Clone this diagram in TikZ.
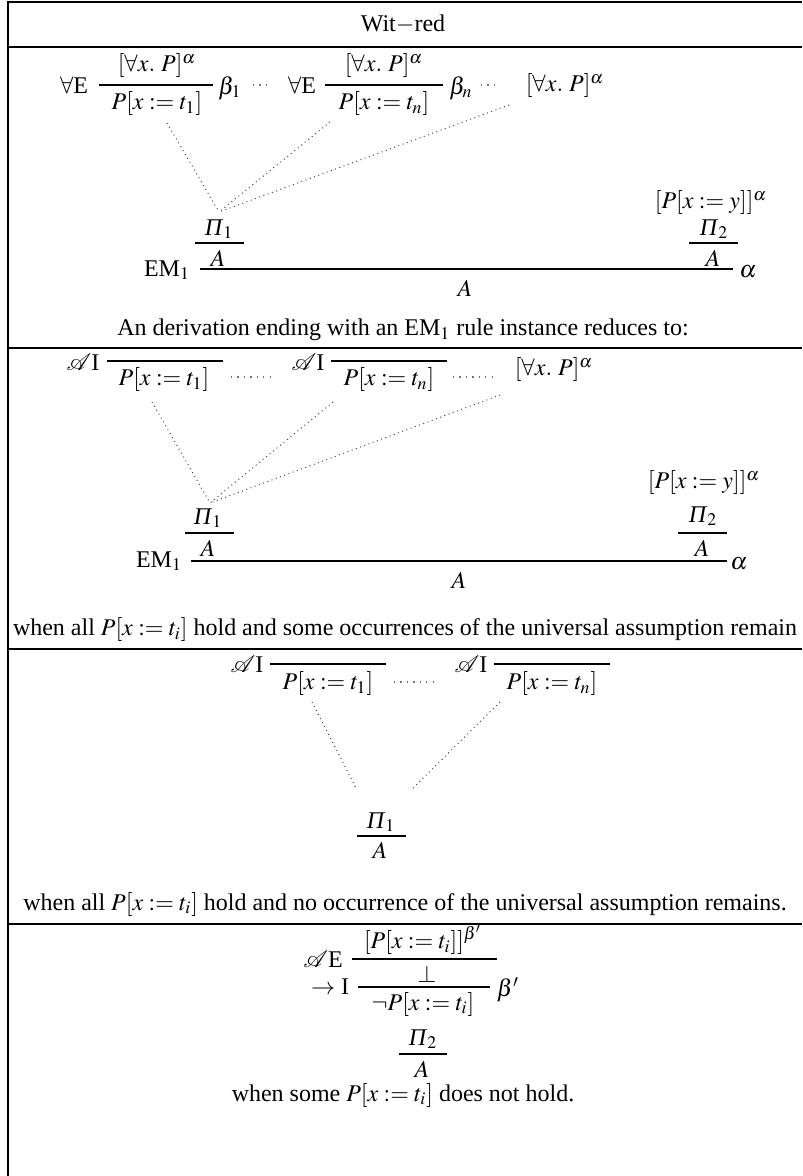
\documentclass[tikz,border=0pt]{standalone}
\usepackage{mathptmx}
\usepackage{fontspec}
\setmainfont{Liberation Serif}
\usetikzlibrary{calc}
\newcommand{\PiI}[1]{\textit{Π}$_{#1}$}
\begin{document}
\begin{tikzpicture}[x=0.467pt,y=-0.467pt,
  lbl/.style={inner sep=0pt,outer sep=0pt,font=\fontsize{11.2}{13}\selectfont},
  frame/.style={line width=1.2pt},
  rulebar/.style={line width=0.9pt},
  dotline/.style={line width=0.45pt,black!75,dash pattern=on 0.45pt off 1.65pt},
  hdots/.style={line width=0.6pt,black!55,dash pattern=on 0.6pt off 2.4pt}]
\useasboundingbox (0,0) rectangle (802,1176);
% frame
\draw[frame] (8,2) -- (802,2);
\draw[frame] (8,47) -- (802,47);
\draw[frame] (8,348) -- (802,348);
\draw[frame] (8,649) -- (802,649);
\draw[frame] (8,924) -- (802,924);
\draw[frame] (8,1) -- (8,1176);
% header
\node[lbl] (title) at (403,24) {Wit$-$red};
% ===== section 1 =====
\node[lbl] (s1l1) at (74,85) {$\forall$E};
\node[lbl] (s1n1) at (157,66) {$[\forall x.\ P]^\alpha$};
\draw[rulebar] (99,85) -- (213,85);
\node[lbl] (s1d1) at (157,104) {$P[x := t_1]$};
\node[lbl] (s1b1) at (230,88) {$\beta_1$};
\draw[hdots] (253,85) -- ++(14,0);
\node[lbl] (s1l2) at (302,85) {$\forall$E};
\node[lbl] (s1n2) at (384,66) {$[\forall x.\ P]^\alpha$};
\draw[rulebar] (325,85) -- (443,85);
\node[lbl] (s1d2) at (384,104) {$P[x := t_n]$};
\node[lbl] (s1bn) at (461,88) {$\beta_n$};
\draw[hdots] (481,85) -- ++(14,0);
\node[lbl] (s1h) at (565,86) {$[\forall x.\ P]^\alpha$};
\coordinate (s1ap) at (219,212);
\draw[dotline] ($(s1d1.center)+(10,19)$) -- (s1ap);
\draw[dotline] ($(s1d2.center)+(-54,18)$) -- (s1ap);
\draw[dotline] ($(s1h.center)+(-56,19)$) -- (s1ap);
\node[lbl] (s1p1) at (219,229) {\PiI{1}};
\draw[rulebar] (195,243) -- (244,243);
\node[lbl] (s1a1) at (218,258) {$A$};
\node[lbl] (s1em) at (167,270) {EM$_1$};
\draw[rulebar] (200,269) -- (733,269);
\node[lbl] (s1c) at (465,288) {$A$};
\node[lbl] (s1hr) at (711,203) {$[P[x := y]]^\alpha$};
\node[lbl] (s1p2) at (714,229) {\PiI{2}};
\draw[rulebar] (689,243) -- (738,243);
\node[lbl] (s1a2) at (713,258) {$A$};
\node[lbl] (s1al) at (748,272) {$\alpha$};
\node[lbl] (cap1) at (403,330) {An derivation ending with an EM$_1$ rule instance reduces to:};
% ===== section 2 =====
\node[lbl] (s2l1) at (83,362) {$\mathcal{A}$I};
\draw[rulebar] (107,361) -- (223,361);
\node[lbl] (s2d1) at (164,380) {$P[x := t_1]$};
\draw[hdots] (231,377) -- ++(39.8,0);
\node[lbl] (s2l2) at (308,362) {$\mathcal{A}$I};
\draw[rulebar] (331,361) -- (447,361);
\node[lbl] (s2d2) at (389,380) {$P[x := t_n]$};
\draw[hdots] (453,377) -- ++(39.8,0);
\node[lbl] (s2h) at (554,370) {$[\forall x.\ P]^\alpha$};
\coordinate (s2ap) at (210,503);
\draw[dotline] ($(s2d1.center)+(-12,22)$) -- (s2ap);
\draw[dotline] ($(s2d2.center)+(-56,22)$) -- (s2ap);
\draw[dotline] ($(s2h.center)+(-54,25)$) -- (s2ap);
\node[lbl] (s2p1) at (208,518) {\PiI{1}};
\draw[rulebar] (185,533) -- (234,533);
\node[lbl] (s2a1) at (208,548) {$A$};
\node[lbl] (s2em) at (159,561) {EM$_1$};
\draw[rulebar] (191,561) -- (727,561);
\node[lbl] (s2c) at (459,580) {$A$};
\node[lbl] (s2hr) at (704,483) {$[P[x := y]]^\alpha$};
\node[lbl] (s2p2) at (703,516) {\PiI{2}};
\draw[rulebar] (678,533) -- (727,533);
\node[lbl] (s2a2) at (702,548) {$A$};
\node[lbl] (s2al) at (739,564) {$\alpha$};
\node[lbl] (cap2) at (405,630) {when all $P[x := t_i]$ hold and some occurrences of the universal assumption remain};
% ===== section 3 =====
\node[lbl] (s3l1) at (247,664) {$\mathcal{A}$I};
\draw[rulebar] (270,664) -- (386,664);
\node[lbl] (s3d1) at (328,684) {$P[x := t_1]$};
\draw[hdots] (394,682) -- ++(39.8,0);
\node[lbl] (s3l2) at (471,664) {$\mathcal{A}$I};
\draw[rulebar] (494,664) -- (610,664);
\node[lbl] (s3d2) at (552,684) {$P[x := t_n]$};
\coordinate (s3e1) at (356,788);
\coordinate (s3e2) at (413,788);
\draw[dotline] ($(s3d1.center)+(-16,18)$) -- (s3e1);
\draw[dotline] ($(s3d2.center)+(-52,18)$) -- (s3e2);
\node[lbl] (s3p1) at (381,822) {\PiI{1}};
\draw[rulebar] (357,836) -- (406,836);
\node[lbl] (s3a1) at (380,850) {$A$};
\node[lbl] (cap3) at (405,904) {when all $P[x := t_i]$ hold and no occurrence of the universal assumption remains.};
% ===== section 4 =====
\node[lbl] (s4l1) at (323,959) {$\mathcal{A}$E};
\node[lbl] (s4n1) at (423,940) {$[P[x := t_i]]^{\beta'}$};
\draw[rulebar] (352,959) -- (497,959);
\node[lbl] (s4bot) at (427,974) {$\bot$};
\node[lbl] (s4l2) at (330,987) {$\to$ I};
\draw[rulebar] (358,987) -- (490,987);
\node[lbl] (s4d) at (423,1004) {$\neg P[x := t_i]$};
\node[lbl] (s4b) at (508,990) {$\beta'$};
\node[lbl] (s4p2) at (423,1039) {\PiI{2}};
\draw[rulebar] (399,1054) -- (447,1054);
\node[lbl] (s4a) at (422,1069) {$A$};
\node[lbl] (cap4) at (403,1095) {when some $P[x := t_i]$ does not hold.};
\end{tikzpicture}
\end{document}
